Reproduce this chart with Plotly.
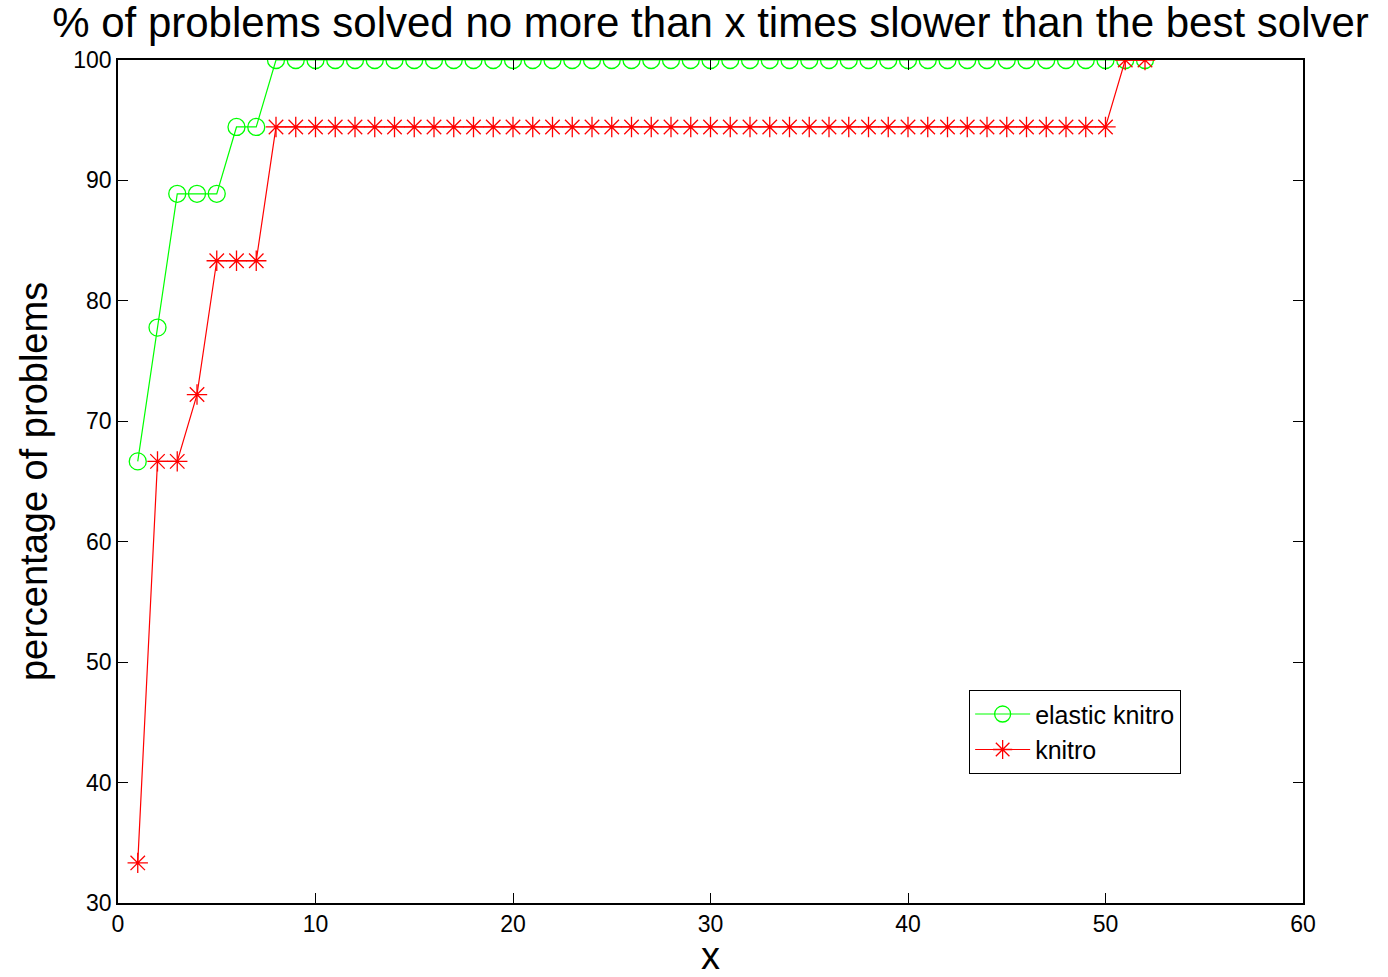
import plotly.graph_objects as go

x_vals = list(range(1, 53))
elastic_knitro = [66.67, 77.78, 88.89, 88.89, 88.89, 94.44, 94.44] + [100.0] * 45
knitro = [33.33, 66.67, 66.67, 72.22, 83.33, 83.33, 83.33] + [94.44] * 43 + [100.0, 100.0]

fig = go.Figure()
fig.add_trace(go.Scatter(
    x=x_vals, y=elastic_knitro, name="elastic knitro", mode="lines+markers",
    line=dict(color="#00ff00", width=1.2),
    marker=dict(symbol="circle-open", size=17, color="#00ff00", line=dict(width=1.3, color="#00ff00")),
))
fig.add_trace(go.Scatter(
    x=x_vals, y=knitro, name="knitro", mode="lines+markers",
    line=dict(color="#ff0000", width=1.2),
    marker=dict(symbol="asterisk-open", size=17, color="#ff0000", line=dict(width=1.3, color="#ff0000")),
))

fig.update_layout(
    width=1388, height=977,
    margin=dict(l=118, r=85, t=60, b=74),
    paper_bgcolor="white", plot_bgcolor="white",
    font=dict(family="Liberation Sans, Arial, sans-serif", color="black", size=20),
    title=dict(text="% of problems solved no more than x times slower than the best solver",
               x=0.5, xanchor="center", xref="paper", y=0.977, yanchor="middle",
               font=dict(size=42)),
    showlegend=True,
    legend=dict(x=0.718, y=0.2527, xanchor="left", yanchor="top",
                bgcolor="white", bordercolor="black", borderwidth=1.3,
                font=dict(size=25), tracegroupgap=0, itemwidth=55),
)
fig.update_xaxes(
    range=[0, 60], tickvals=[0, 10, 20, 30, 40, 50, 60], automargin=False,
    showgrid=False, zeroline=False, showline=True, linecolor="black", linewidth=1.5,
    mirror="ticks", ticks="inside", ticklen=10, tickwidth=1, tickcolor="black",
    tickfont=dict(size=23),
    title=dict(text="x", font=dict(size=38), standoff=8),
)
fig.update_yaxes(
    range=[30, 100], tickvals=[30, 40, 50, 60, 70, 80, 90, 100], automargin=False,
    showgrid=False, zeroline=False, showline=True, linecolor="black", linewidth=1.5,
    mirror="ticks", ticks="inside", ticklen=10, tickwidth=1, tickcolor="black",
    tickfont=dict(size=23),
    title=dict(text="percentage of problems", font=dict(size=38), standoff=14),
)

fig.write_html("out.html")
